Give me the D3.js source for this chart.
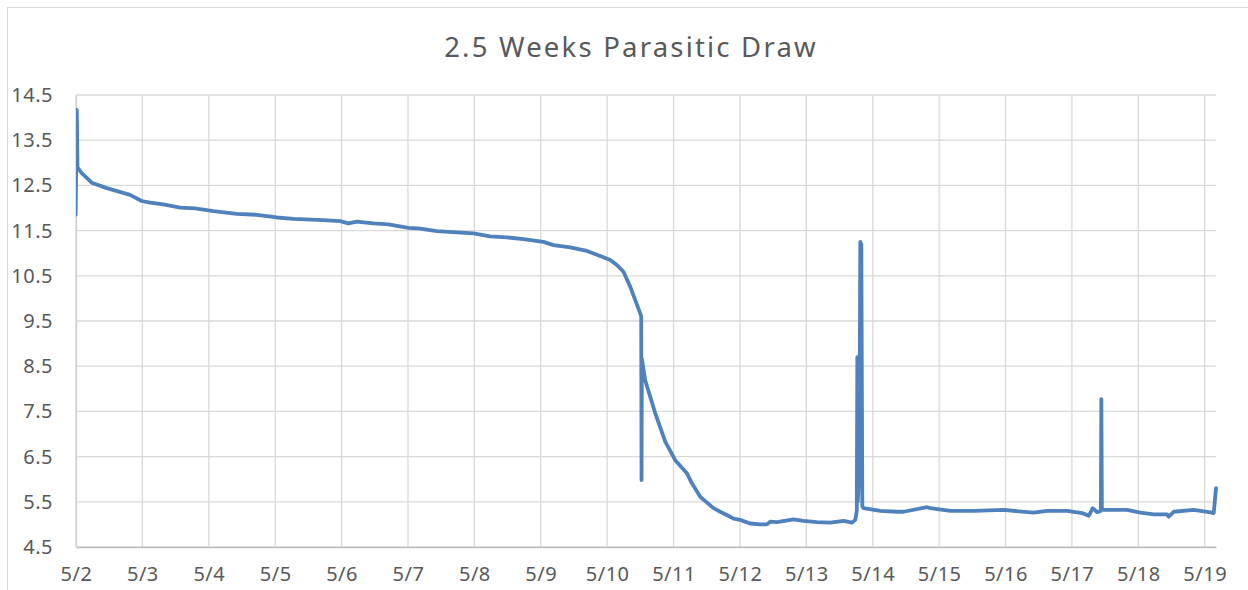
<!DOCTYPE html>
<html>
<head>
<meta charset="utf-8">
<script src="https://cdn.jsdelivr.net/npm/d3@7"></script>
<style>
  body { margin: 0; background: #fff; overflow: hidden; }
  svg text { font-family: "Noto Sans", "Open Sans", sans-serif; fill: #595959; }
</style>
</head>
<body>
<svg id="chart" width="1248" height="590"></svg>
<script>
// ---------------- DATA ----------------
const chartTitle = "2.5 Weeks Parasitic Draw";

// time as day of May (fractional)
const dayOfMay = [
  1.995, 2.012, 2.022, 2.086, 2.237, 2.463, 2.814, 2.990, 3.115, 3.315,
  3.567, 3.793, 4.069, 4.421, 4.723, 5.024, 5.274, 5.726, 5.978, 6.103,
  6.229, 6.479, 6.705, 7.007, 7.157, 7.435, 7.736, 7.986, 8.238, 8.489,
  8.740, 9.041, 9.192, 9.443, 9.695, 9.895, 10.046, 10.147, 10.246, 10.347,
  10.498, 10.513, 10.518, 10.522, 10.573, 10.724, 10.875, 11.025, 11.201, 11.277,
  11.402, 11.602, 11.703, 11.904, 12.004, 12.155, 12.305, 12.407, 12.456, 12.557,
  12.808, 12.958, 13.160, 13.361, 13.561, 13.688, 13.737, 13.760, 13.768, 13.775,
  13.798, 13.813, 13.820, 13.828, 13.843, 13.862, 14.114, 14.365, 14.465, 14.818,
  14.867, 15.169, 15.520, 15.972, 16.424, 16.626, 16.927, 17.153, 17.253, 17.313,
  17.379, 17.436, 17.443, 17.451, 17.479, 17.831, 18.031, 18.232, 18.434, 18.458,
  18.533, 18.835, 19.112, 19.136, 19.170
];

const volts = [
  11.85, 14.17, 12.90, 12.77, 12.56, 12.44, 12.29, 12.155, 12.12, 12.08,
  12.01, 11.99, 11.93, 11.87, 11.85, 11.79, 11.76, 11.73, 11.71, 11.66,
  11.70, 11.66, 11.64, 11.56, 11.55, 11.49, 11.46, 11.44, 11.37, 11.35,
  11.31, 11.25, 11.18, 11.13, 11.05, 10.94, 10.85, 10.74, 10.59, 10.26,
  9.67, 9.60, 5.98, 8.67, 8.19, 7.46, 6.83, 6.42, 6.13, 5.91,
  5.61, 5.36, 5.28, 5.13, 5.10, 5.02, 5.00, 5.00, 5.06, 5.05,
  5.11, 5.08, 5.05, 5.04, 5.08, 5.04, 5.10, 5.30, 8.70, 5.50,
  6.30, 11.25, 10.60, 11.20, 5.40, 5.36, 5.30, 5.28, 5.28, 5.38,
  5.36, 5.30, 5.30, 5.32, 5.26, 5.30, 5.30, 5.25, 5.19, 5.36,
  5.27, 5.30, 7.77, 5.35, 5.32, 5.32, 5.26, 5.22, 5.22, 5.17,
  5.28, 5.32, 5.26, 5.25, 5.80
];

const xTickDays = d3.range(2, 20);            // 5/2 .. 5/19
const yTickValues = d3.range(4.5, 14.51, 1);  // 4.5 .. 14.5

// ---------------- CHART ----------------
const svg = d3.select("#chart");
const m = { top: 95, right: 32, bottom: 43, left: 76 };
const W = 1248 - m.left - m.right;
const H = 590 - m.top - m.bottom;

// chart area border (only left/top visible in frame)
svg.append("rect")
  .attr("x", 7.5).attr("y", 7.5)
  .attr("width", 1300).attr("height", 700)
  .attr("fill", "none")
  .attr("stroke", "#d9d9d9");

svg.append("text")
  .attr("x", 631).attr("y", 57)
  .attr("text-anchor", "middle")
  .style("font-size", "27.5px")
  .style("letter-spacing", "2.2px")
  .text(chartTitle);

const g = svg.append("g").attr("transform", `translate(${m.left},${m.top})`);

svg.append("clipPath").attr("id", "plotClip")
  .append("rect").attr("x", m.left).attr("y", 0).attr("width", W + 2).attr("height", 590);

const x = d3.scaleLinear().domain([2, 19.17]).range([0, W]);
const y = d3.scaleLinear().domain([4.5, 14.5]).range([H, 0]);

// gridlines
g.append("g")
  .selectAll("line.h")
  .data(yTickValues)
  .join("line")
  .attr("x1", 0).attr("x2", W)
  .attr("y1", d => y(d)).attr("y2", d => y(d))
  .attr("stroke", "#d9d9d9").attr("stroke-width", 1.3);

g.append("g")
  .selectAll("line.v")
  .data(xTickDays)
  .join("line")
  .attr("x1", d => x(d)).attr("x2", d => x(d))
  .attr("y1", 0).attr("y2", H)
  .attr("stroke", "#d9d9d9").attr("stroke-width", 1.3);

// axes
const xAxis = g.append("g")
  .attr("transform", `translate(0,${H})`)
  .call(d3.axisBottom(x).tickValues(xTickDays).tickFormat(d => `5/${d}`).tickSize(0).tickPadding(20));
xAxis.select(".domain").attr("stroke", "#bfbfbf").attr("stroke-width", 1.5);

const yAxis = g.append("g")
  .call(d3.axisLeft(y).tickValues(yTickValues).tickFormat(d3.format(".1f")).tickSize(0).tickPadding(23));
yAxis.select(".domain").attr("stroke", "#d0d0d0").attr("stroke-width", 1.3);

g.selectAll(".tick text")
  .style("font-size", "20px")
  .style("letter-spacing", "0.5px")
  .attr("fill", "#595959");

// voltage line (clipped to the plot area like the original)
const series = dayOfMay.map((d, i) => ({ day: d, v: volts[i] }));
const line = d3.line().x(d => x(d.day)).y(d => y(d.v));

svg.append("g")
  .attr("clip-path", "url(#plotClip)")
  .append("path")
  .attr("transform", `translate(${m.left},${m.top})`)
  .datum(series)
  .attr("fill", "none")
  .attr("stroke", "#4f81bd")
  .attr("stroke-width", 3.8)
  .attr("stroke-linejoin", "round")
  .attr("stroke-linecap", "round")
  .attr("d", line);
</script>
</body>
</html>
